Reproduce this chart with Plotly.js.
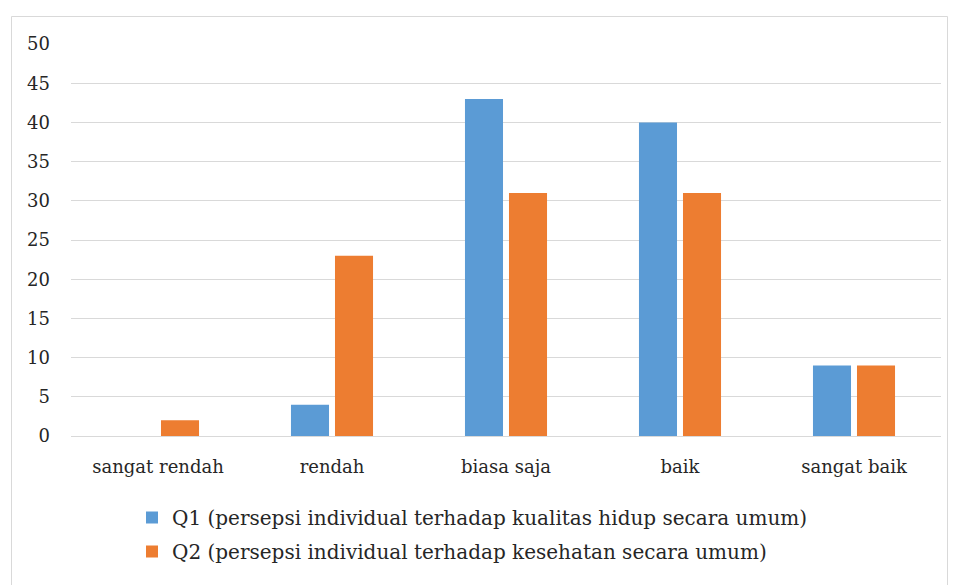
<!DOCTYPE html>
<html>
<head>
<meta charset="utf-8">
<script src="https://cdn.plot.ly/plotly-3.0.1.min.js"></script>
<style>html,body{margin:0;padding:0;background:#fff;}#chart{width:957px;height:585px;}</style>
</head>
<body>
<div id="chart"></div>
<script>
const categories = ["sangat rendah", "rendah", "biasa saja", "baik", "sangat baik"];
const q1Values = [0, 4, 43, 40, 9];
const q2Values = [2, 23, 31, 31, 9];
const q1Name = "Q1 (persepsi individual terhadap kualitas hidup secara umum)";
const q2Name = "Q2 (persepsi individual terhadap kesehatan secara umum)";
const yTicks = [0, 5, 10, 15, 20, 25, 30, 35, 40, 45, 50];

const W = 957, H = 585, L = 71, R = 16, T = 44, B = 149;
const pw = W - L - R, ph = H - T - B;
const px = v => (v - L) / pw;
const py = v => (H - B - v) / ph;
const FONT = "DejaVu Serif";

const traces = [
  {type: "bar", name: q1Name, x: categories, y: q1Values, marker: {color: "#5B9BD5"}, legendgroup: "a"},
  {type: "bar", name: q2Name, x: categories, y: q2Values, marker: {color: "#ED7D31"}, legendgroup: "b"}
];

const layout = {
  width: W, height: H,
  margin: {l: L, r: R, t: T, b: B, autoexpand: false},
  paper_bgcolor: "#fff", plot_bgcolor: "#fff",
  font: {family: FONT, size: 18, color: "#262626"},
  barmode: "group", bargap: 0.494, bargroupgap: 0.136,
  showlegend: true,
  legend: {orientation: "v", x: px(132), xanchor: "left", y: py(498), yanchor: "top",
           font: {family: FONT, size: 20, color: "#262626"}, tracegroupgap: 5, bgcolor: "rgba(0,0,0,0)"},
  xaxis: {type: "category", showgrid: false, zeroline: false, showline: false, ticks: "",
          ticklabelstandoff: 18, tickfont: {family: FONT, size: 18}, automargin: false},
  yaxis: {range: [0, 50], tickvals: yTicks, ticktext: yTicks.map(String), showgrid: true, gridcolor: "#d9d9d9",
          gridwidth: 1, zeroline: true, zerolinecolor: "#d9d9d9", zerolinewidth: 1, showline: false, ticks: "",
          ticklabelstandoff: 20, tickfont: {family: FONT, size: 18}, fixedrange: true, automargin: false},
  shapes: [{type: "rect", xref: "paper", yref: "paper", x0: px(11.5), x1: px(947.5), y0: py(600), y1: py(16.5),
            line: {color: "#d9d9d9", width: 1}, fillcolor: "rgba(0,0,0,0)", layer: "below"}]
};

Plotly.newPlot("chart", traces, layout, {displayModeBar: false, staticPlot: true});
</script>
</body>
</html>
